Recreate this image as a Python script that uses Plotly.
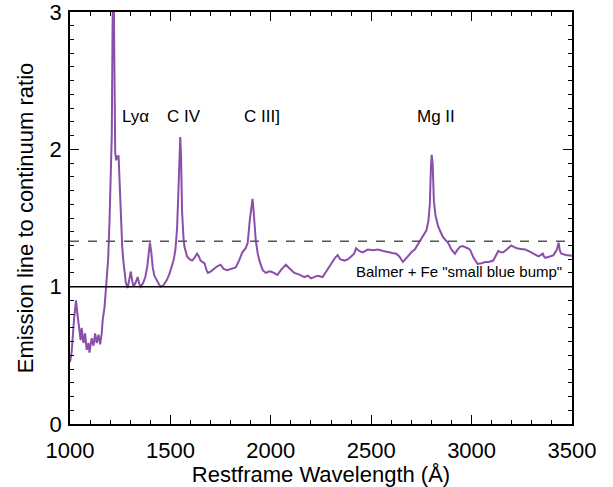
import plotly.graph_objects as go

wavelength = [1000, 1008, 1020, 1030, 1037, 1045, 1053, 1058, 1067, 1075, 1083, 1092, 1097, 1108, 1117,
              1125, 1133, 1142, 1150, 1158, 1163, 1172, 1180, 1185, 1190, 1197, 1203, 1208, 1212, 1216,
              1220, 1225, 1230, 1236, 1242, 1247, 1253, 1260, 1267, 1278, 1287, 1295, 1303, 1310, 1317,
              1327, 1337, 1345, 1353, 1365, 1375, 1385, 1393, 1398, 1405, 1412, 1420, 1435, 1450, 1465,
              1483, 1497, 1508, 1517, 1525, 1533, 1540, 1545, 1549, 1553, 1558, 1565, 1570, 1583, 1595,
              1608, 1620, 1633, 1642, 1650, 1660, 1670, 1680, 1687, 1700, 1717, 1735, 1750, 1765, 1783,
              1800, 1825, 1842, 1858, 1875, 1885, 1895, 1903, 1909, 1914, 1920, 1925, 1935, 1945, 1960,
              1975, 1990, 2000, 2015, 2033, 2050, 2075, 2095, 2117, 2140, 2167, 2185, 2200, 2215, 2233,
              2258, 2280, 2300, 2320, 2333, 2345, 2367, 2385, 2400, 2415, 2425, 2440, 2458, 2483, 2510,
              2533, 2560, 2583, 2605, 2625, 2640, 2658, 2670, 2683, 2700, 2717, 2742, 2760, 2775, 2785,
              2792, 2797, 2801, 2806, 2812, 2820, 2833, 2845, 2858, 2870, 2883, 2900, 2917, 2930, 2942,
              2955, 2967, 2980, 2992, 3010, 3030, 3050, 3067, 3085, 3108, 3120, 3133, 3145, 3158, 3175,
              3197, 3210, 3225, 3245, 3267, 3290, 3308, 3333, 3350, 3355, 3360, 3367, 3390, 3408, 3425,
              3433, 3440, 3447, 3470, 3500]
ratio = [0.45, 0.52, 0.76, 0.90, 0.80, 0.68, 0.61, 0.70, 0.59, 0.66, 0.54, 0.59, 0.52, 0.625, 0.57,
         0.66, 0.59, 0.65, 0.58, 0.66, 0.76, 0.85, 0.98, 1.08, 1.20, 1.49, 1.85, 2.10, 2.90, 3.40,
         2.80, 1.98, 1.92, 1.95, 1.95, 1.75, 1.46, 1.29, 1.17, 1.03, 0.99, 1.04, 1.11, 1.04, 1.00,
         1.03, 1.07, 1.02, 1.00, 1.03, 1.07, 1.15, 1.28, 1.32, 1.25, 1.14, 1.08, 1.04, 1.00, 1.01,
         1.05, 1.10, 1.15, 1.20, 1.27, 1.42, 1.70, 2.00, 2.09, 1.95, 1.55, 1.36, 1.29, 1.22, 1.20,
         1.19, 1.21, 1.24, 1.22, 1.19, 1.18, 1.17, 1.12, 1.10, 1.11, 1.13, 1.15, 1.16, 1.13, 1.12,
         1.13, 1.14, 1.19, 1.25, 1.28, 1.32, 1.48, 1.58, 1.64, 1.56, 1.42, 1.34, 1.24, 1.18, 1.12,
         1.10, 1.11, 1.11, 1.10, 1.085, 1.12, 1.16, 1.13, 1.10, 1.09, 1.07, 1.08, 1.06, 1.07, 1.08,
         1.07, 1.12, 1.17, 1.21, 1.23, 1.20, 1.19, 1.20, 1.22, 1.24, 1.28, 1.26, 1.25, 1.27, 1.265,
         1.27, 1.26, 1.25, 1.245, 1.24, 1.22, 1.18, 1.20, 1.22, 1.25, 1.27, 1.33, 1.37, 1.41, 1.48,
         1.60, 1.85, 1.96, 1.90, 1.63, 1.52, 1.44, 1.40, 1.36, 1.34, 1.32, 1.27, 1.24, 1.27, 1.29,
         1.295, 1.29, 1.28, 1.27, 1.21, 1.165, 1.17, 1.18, 1.18, 1.19, 1.22, 1.26, 1.25, 1.25, 1.27,
         1.30, 1.29, 1.28, 1.275, 1.27, 1.255, 1.24, 1.22, 1.235, 1.245, 1.22, 1.21, 1.22, 1.23, 1.27,
         1.32, 1.26, 1.24, 1.23, 1.225]

continuum_level = 1.0
bump_level = 1.33
x_ticks = [1000, 1500, 2000, 2500, 3000, 3500]
y_ticks = [0, 1, 2, 3]
line_labels = ["Ly\u03b1", "C IV", "C III]", "Mg II"]
label_x = [1327, 1568, 1955, 2825]
label_y = [2.24, 2.24, 2.24, 2.24]
bump_label = 'Balmer + Fe "small blue bump"'
bump_label_x = 2935
bump_label_y = 1.11

FONT = "Liberation Sans, Arial, Helvetica, sans-serif"

fig = go.Figure()
fig.add_trace(go.Scatter(x=wavelength, y=ratio, mode="lines",
                         line=dict(color="#8a4fab", width=2), showlegend=False,
                         cliponaxis=True))

fig.add_shape(type="line", xref="paper", yref="y", x0=0, x1=1,
              y0=continuum_level, y1=continuum_level,
              line=dict(color="black", width=1.5))
fig.add_shape(type="line", xref="paper", yref="y", x0=0, x1=1,
              y0=bump_level, y1=bump_level,
              line=dict(color="#555555", width=1.5, dash="dash"))

for t, xx, yy in zip(line_labels, label_x, label_y):
    fig.add_annotation(x=xx, y=yy, text=t, showarrow=False,
                       font=dict(size=17, color="black", family=FONT))
fig.add_annotation(x=bump_label_x, y=bump_label_y, text=bump_label, showarrow=False,
                   font=dict(size=15, color="black", family=FONT))

axis_common = dict(showgrid=False, zeroline=False, showline=True, linecolor="black",
                   linewidth=1.5, mirror="ticks", ticks="inside", ticklen=9,
                   tickwidth=1.2, tickcolor="black", automargin=False,
                   ticklabeloverflow="allow",
                   tickfont=dict(size=22, color="black", family=FONT))

fig.update_xaxes(range=[1000, 3500], tickvals=x_ticks,
                 ticktext=[str(v) for v in x_ticks], ticklabelstandoff=6,
                 minor=dict(dtick=100, ticks="inside", ticklen=4, tickcolor="black", tickwidth=1.2),
                 title=dict(text="Restframe Wavelength (\u00c5)",
                            font=dict(size=22, color="black", family=FONT), standoff=0),
                 **axis_common)
fig.update_yaxes(range=[0, 3], tickvals=y_ticks,
                 ticktext=[str(v) for v in y_ticks], ticklabelstandoff=2,
                 minor=dict(dtick=0.1, ticks="inside", ticklen=4, tickcolor="black", tickwidth=1.2),
                 title=dict(text="Emission line to continuum ratio",
                            font=dict(size=22, color="black", family=FONT), standoff=10),
                 **axis_common)

fig.update_layout(width=613, height=487, margin=dict(l=70, r=41, t=12, b=63),
                  plot_bgcolor="white", paper_bgcolor="white")

fig.write_html("out.html")
